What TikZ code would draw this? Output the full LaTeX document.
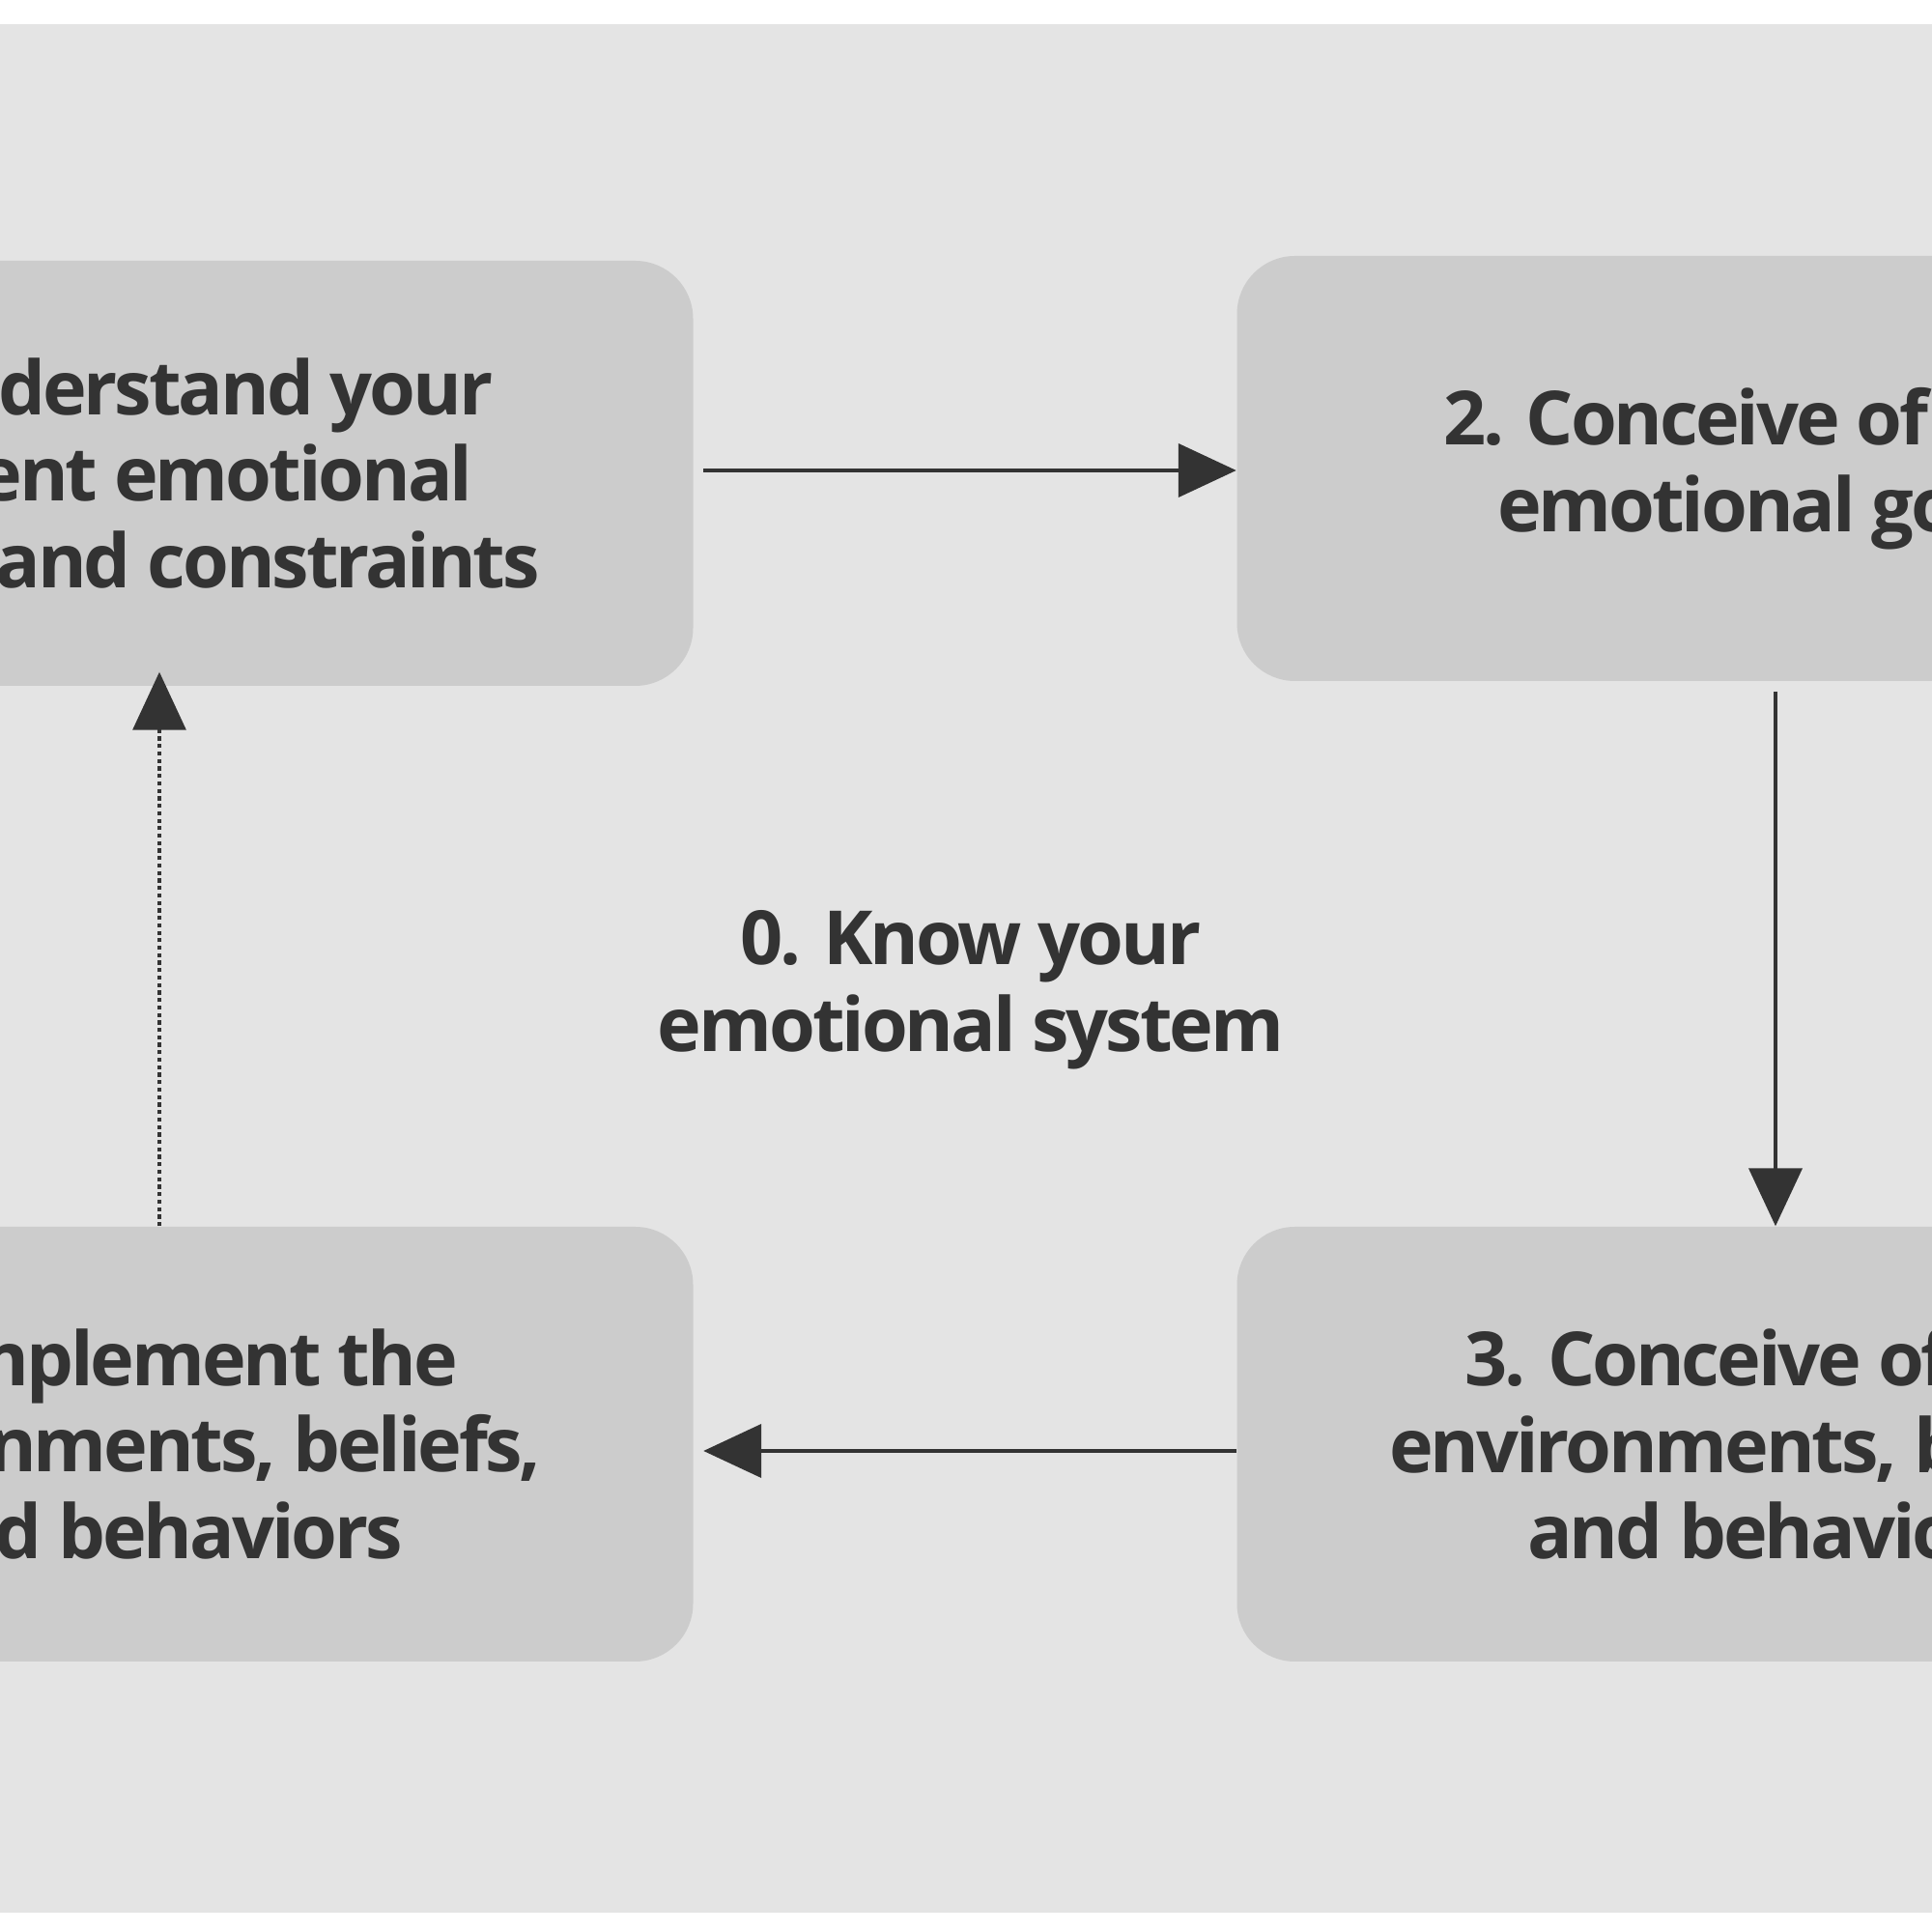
\documentclass[tikz,border=0pt]{standalone}
\usepackage{fontspec}
\setmainfont{Open Sans}[LetterSpace=-4]
\usetikzlibrary{arrows.meta}
\definecolor{panel}{HTML}{E4E4E4}
\definecolor{boxgrey}{HTML}{CCCCCC}
\definecolor{ink}{HTML}{333333}

\begin{document}
\begin{tikzpicture}[
        stage/.style={rectangle, rounded corners=0.6cm, fill=boxgrey, minimum width=11.15cm, minimum height=4.4cm, align=center, text=ink, font=\fontsize{22}{25.5}\selectfont\bfseries},
        arrow/.style={-{Triangle[length=0.6cm, width=0.55cm]}, ink, line width=1.2pt}]

        \useasboundingbox (0,0) rectangle (20,20);
        \clip (0,0) rectangle (20,20);
        \fill[white] (0,0) rectangle (20,20);
        \fill[panel] (0,0.2) rectangle (20.5,19.75);

        % Stages
        \node[stage] (understand) at (1.6,15.1) {1. Understand your\\current emotional\\needs and constraints};
        \node[stage] (goals) at (18.38,15.15) {2. Conceive of your\\emotional goals};
        \node[stage, minimum height=4.5cm] (conceive) at (18.38,5.05) {3. Conceive of the\\environments, beliefs,\\and behaviors};
        \node[stage, minimum height=4.5cm] (implement) at (1.6,5.05) {4. Implement the\\environments, beliefs,\\and behaviors};

        % Centre
        \node[text=ink, align=center, font=\fontsize{22}{25.5}\selectfont\bfseries] (know) at (10.05,9.75) {0. Know your\\emotional system};

        % Arrows
        \draw[arrow] ([xshift=0.1cm]understand.east |- 0,15.13) -- (goals.west |- 0,15.13);
        \draw[arrow] ([yshift=-0.1cm]goals.south -| 18.38,0) -- (conceive.north -| 18.38,0);
        \draw[arrow] (conceive.west |- 0,4.98) -- ([xshift=0.1cm]implement.east |- 0,4.98);
        \draw[arrow, densely dotted, line width=0.9pt] (implement.north -| 1.65,0) -- ([yshift=0.15cm]understand.south -| 1.65,0);

    \end{tikzpicture}
\end{document}
